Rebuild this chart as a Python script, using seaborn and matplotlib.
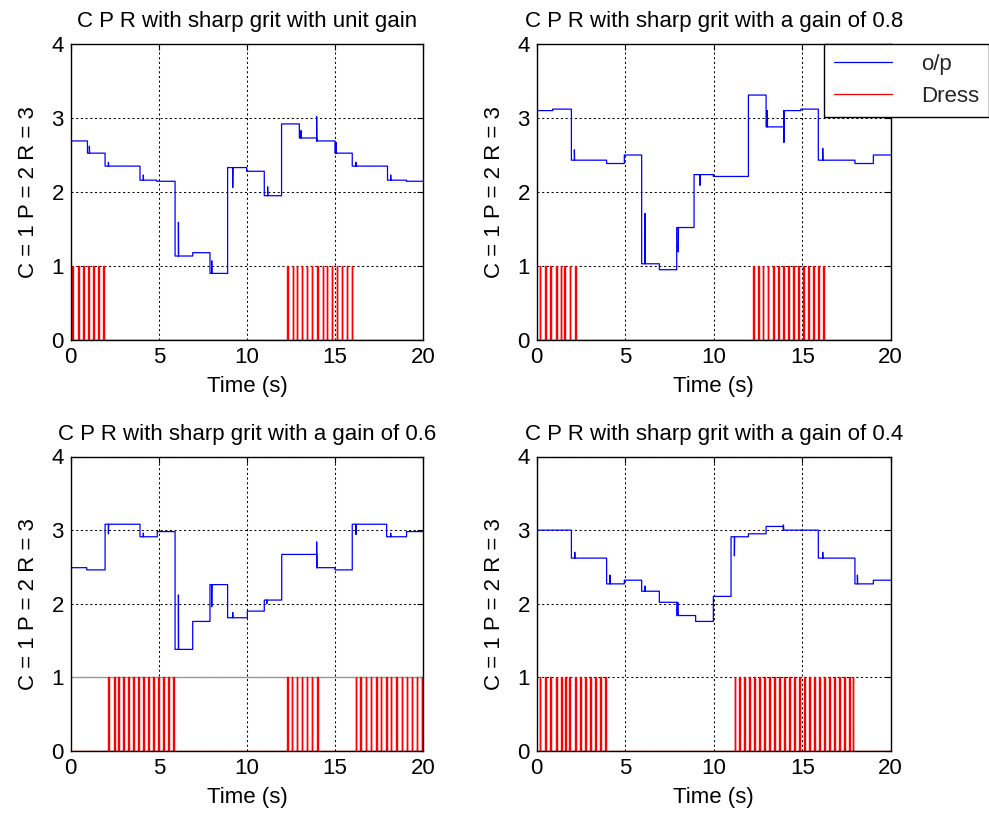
import matplotlib
matplotlib.use("Agg")
import matplotlib.pyplot as plt
from matplotlib.lines import Line2D
import seaborn as sns
import pandas as pd

# ---- panel titles --------------------------------------------------------
titles = [
    "C P R with sharp grit with unit gain",
    "C P R with sharp grit with a gain of 0.8",
    "C P R with sharp grit with a gain of 0.6",
    "C P R with sharp grit with a gain of 0.4",
]

# ---- o/p step levels: switching times (s) and held level ------------------
op1_t = [0, 0.95, 1.95, 3.93, 4.88, 5.92, 6.92, 7.90, 8.90, 9.98, 10.98,
         11.96, 12.97, 13.95, 14.99, 15.97, 17.97, 19.05]
op1_v = [2.69, 2.525, 2.35, 2.16, 2.145, 1.135, 1.18, 0.90, 2.33, 2.28, 1.95,
         2.92, 2.73, 2.69, 2.525, 2.35, 2.16, 2.145]
op1_gt = [1.06, 2.14, 4.12, 6.11, 8.00, 9.19, 11.17, 13.06, 13.95, 15.05, 16.18, 18.15]
op1_gv = [2.62, 2.40, 2.23, 1.59, 1.07, 2.06, 2.07, 2.83, 3.02, 2.67, 2.40, 2.23]

op2_t = [0, 0.90, 1.96, 3.95, 4.95, 5.93, 6.93, 7.91, 8.89, 9.98, 11.96,
         12.96, 13.97, 14.92, 15.91, 17.98, 19.02]
op2_v = [3.10, 3.12, 2.43, 2.385, 2.50, 1.03, 0.95, 1.52, 2.235, 2.21, 3.31,
         2.88, 3.10, 3.12, 2.43, 2.385, 2.50]
op2_gt = [2.13, 6.12, 8.00, 9.23, 13.03, 13.97, 16.16]
op2_gv = [2.57, 1.71, 1.19, 2.09, 3.10, 2.67, 2.59]

op3_t = [0, 0.91, 1.95, 3.93, 4.91, 5.92, 6.92, 7.90, 8.90, 10.02, 10.98,
         11.97, 13.95, 14.99, 15.97, 17.92, 19.05]
op3_v = [2.49, 2.46, 3.08, 2.91, 2.98, 1.38, 1.76, 2.26, 1.81, 1.90, 2.05,
         2.67, 2.49, 2.46, 3.08, 2.91, 2.98]
op3_gt = [2.14, 4.12, 6.11, 8.00, 9.19, 11.12, 13.95, 16.18, 18.15]
op3_gv = [2.95, 2.96, 2.12, 1.96, 1.88, 2.00, 2.84, 2.94, 2.96]

op4_t = [0, 1.96, 3.95, 4.95, 5.93, 6.93, 7.91, 8.98, 9.98, 10.98, 11.96,
         12.96, 13.94, 15.91, 17.98, 19.02]
op4_v = [3.00, 2.62, 2.27, 2.32, 2.17, 2.02, 1.84, 1.76, 2.10, 2.91, 2.95,
         3.05, 3.00, 2.62, 2.27, 2.32]
op4_gt = [2.15, 4.14, 6.12, 7.97, 11.17, 13.94, 16.16, 18.12]
op4_gv = [2.70, 2.39, 2.24, 2.02, 2.65, 3.07, 2.70, 2.39]

# ---- dressing pulse instants (s) ----------------------------------------
dress1 = [0.10, 0.42, 0.71, 0.99, 1.29, 1.54, 1.83,
          12.29, 12.59, 12.82, 13.10, 13.39, 13.67, 13.96, 14.29, 14.52,
          14.80, 15.09, 15.37, 15.66, 15.94]
dress2 = [0.16, 0.47, 0.77, 1.08, 1.36, 1.57, 1.86, 2.16,
          12.24, 12.52, 12.77, 13.05, 13.37, 13.65, 13.93, 14.22, 14.50,
          14.78, 15.06, 15.35, 15.63, 15.91, 16.19]
dress3 = [2.13, 2.45, 2.70, 2.98, 3.27, 3.55, 3.83, 4.12, 4.40, 4.68, 4.96,
          5.25, 5.54, 5.82,
          12.29, 12.54, 12.82, 13.10, 13.39, 13.67, 13.99,
          16.16, 16.41, 16.73, 17.02, 17.32, 17.58, 17.89, 18.15, 18.45,
          18.77, 19.06, 19.34, 19.62, 19.91]
dress4 = [0.16, 0.47, 0.77, 1.08, 1.37, 1.60, 1.84, 2.16, 2.45, 2.73, 3.01,
          3.29, 3.58, 3.86,
          11.18, 11.43, 11.73, 12.00, 12.29, 12.58, 12.86, 13.14, 13.43,
          13.71, 13.99, 14.27, 14.56, 14.84, 15.12, 15.40, 15.69, 15.97,
          16.25, 16.53, 16.82, 17.10, 17.38, 17.66, 17.85]

x_ticks = [0, 5, 10, 15, 20]
y_ticks = [0, 1, 2, 3, 4]
T_END = 20.0
PULSE_W = 0.04
FS = 16


def op_frame(t, v, gt, gv):
    """Hold each level until the next switch; add the brief transients."""
    xs, ys = [], []
    ends = list(t[1:]) + [T_END]
    for t0, t1, lvl in zip(t, ends, v):
        xs.append(t0); ys.append(lvl)
        for g, gval in zip(gt, gv):
            if t0 <= g < t1:
                xs += [g, g, g + 0.01]
                ys += [lvl, gval, lvl]
        xs.append(t1); ys.append(lvl)
    return pd.DataFrame({"t": xs, "v": ys})


def dress_frame(pulses):
    xs, ys = [0.0], [0.0]
    for p in pulses:
        xs += [p, p, p + PULSE_W, p + PULSE_W]
        ys += [0, 1, 1, 0]
    xs.append(T_END); ys.append(0.0)
    return pd.DataFrame({"t": xs, "v": ys})


sns.set_style("white")
plt.rcParams["font.family"] = ["Liberation Sans", "DejaVu Sans"]

fig = plt.figure(figsize=(9.89, 8.16), dpi=100)
W, H = 989.0, 816.0
boxes = [
    (70.7, 44, 423.3, 340),
    (536.7, 44, 890.7, 340),
    (70.7, 456.5, 423.3, 751),
    (536.7, 456.5, 890.7, 751),
]

panels = [
    (op1_t, op1_v, op1_gt, op1_gv, dress1),
    (op2_t, op2_v, op2_gt, op2_gv, dress2),
    (op3_t, op3_v, op3_gt, op3_gv, dress3),
    (op4_t, op4_v, op4_gt, op4_gv, dress4),
]

for i, ((l, t, r, b), (ot, ov, gt, gv, dp)) in enumerate(zip(boxes, panels)):
    ax = fig.add_axes([l / W, 1 - b / H, (r - l) / W, (b - t) / H])
    ax.set_xlim(0, 20)
    ax.set_ylim(0, 4)
    ax.set_xticks(x_ticks)
    ax.set_yticks(y_ticks)
    ax.grid(True, color="black", linestyle=(0, (2, 2.5)), linewidth=0.75)
    ax.set_axisbelow(True)
    if i == 2:
        ax.axhline(1, color="0.6", lw=1.0, zorder=1)

    sns.lineplot(data=dress_frame(dp), x="t", y="v", sort=False,
                 estimator=None, color="red", lw=1.0, ax=ax, zorder=2)
    sns.lineplot(data=op_frame(ot, ov, gt, gv), x="t", y="v", sort=False,
                 estimator=None, color="blue", lw=0.9, ax=ax, zorder=3)

    for s in ax.spines.values():
        s.set_visible(True)
        s.set_color("black")
        s.set_linewidth(1.0)
        s.set_zorder(4)
    ax.tick_params(direction="in", top=True, right=True, length=4,
                   width=0.8, labelsize=FS, pad=5, colors="black")
    ax.set_title(titles[i], fontsize=FS, pad=12, color="black")
    ax.set_xlabel("Time (s)", fontsize=FS, labelpad=6, color="black")
    ax.set_ylabel("C = 1 P = 2 R = 3", fontsize=FS, labelpad=9, color="black")

handles = [Line2D([], [], color="blue", lw=0.9),
           Line2D([], [], color="red", lw=0.9)]
fig.legend(handles, ["o/p", "Dress"], loc="upper right",
           bbox_to_anchor=(1.0, 1 - 44 / H), borderaxespad=0.0,
           fontsize=FS, frameon=True, fancybox=False, edgecolor="black",
           framealpha=1.0, handlelength=2.6, handletextpad=1.3,
           borderpad=0.45, labelspacing=0.5)

fig.savefig("out.png", dpi=100)
